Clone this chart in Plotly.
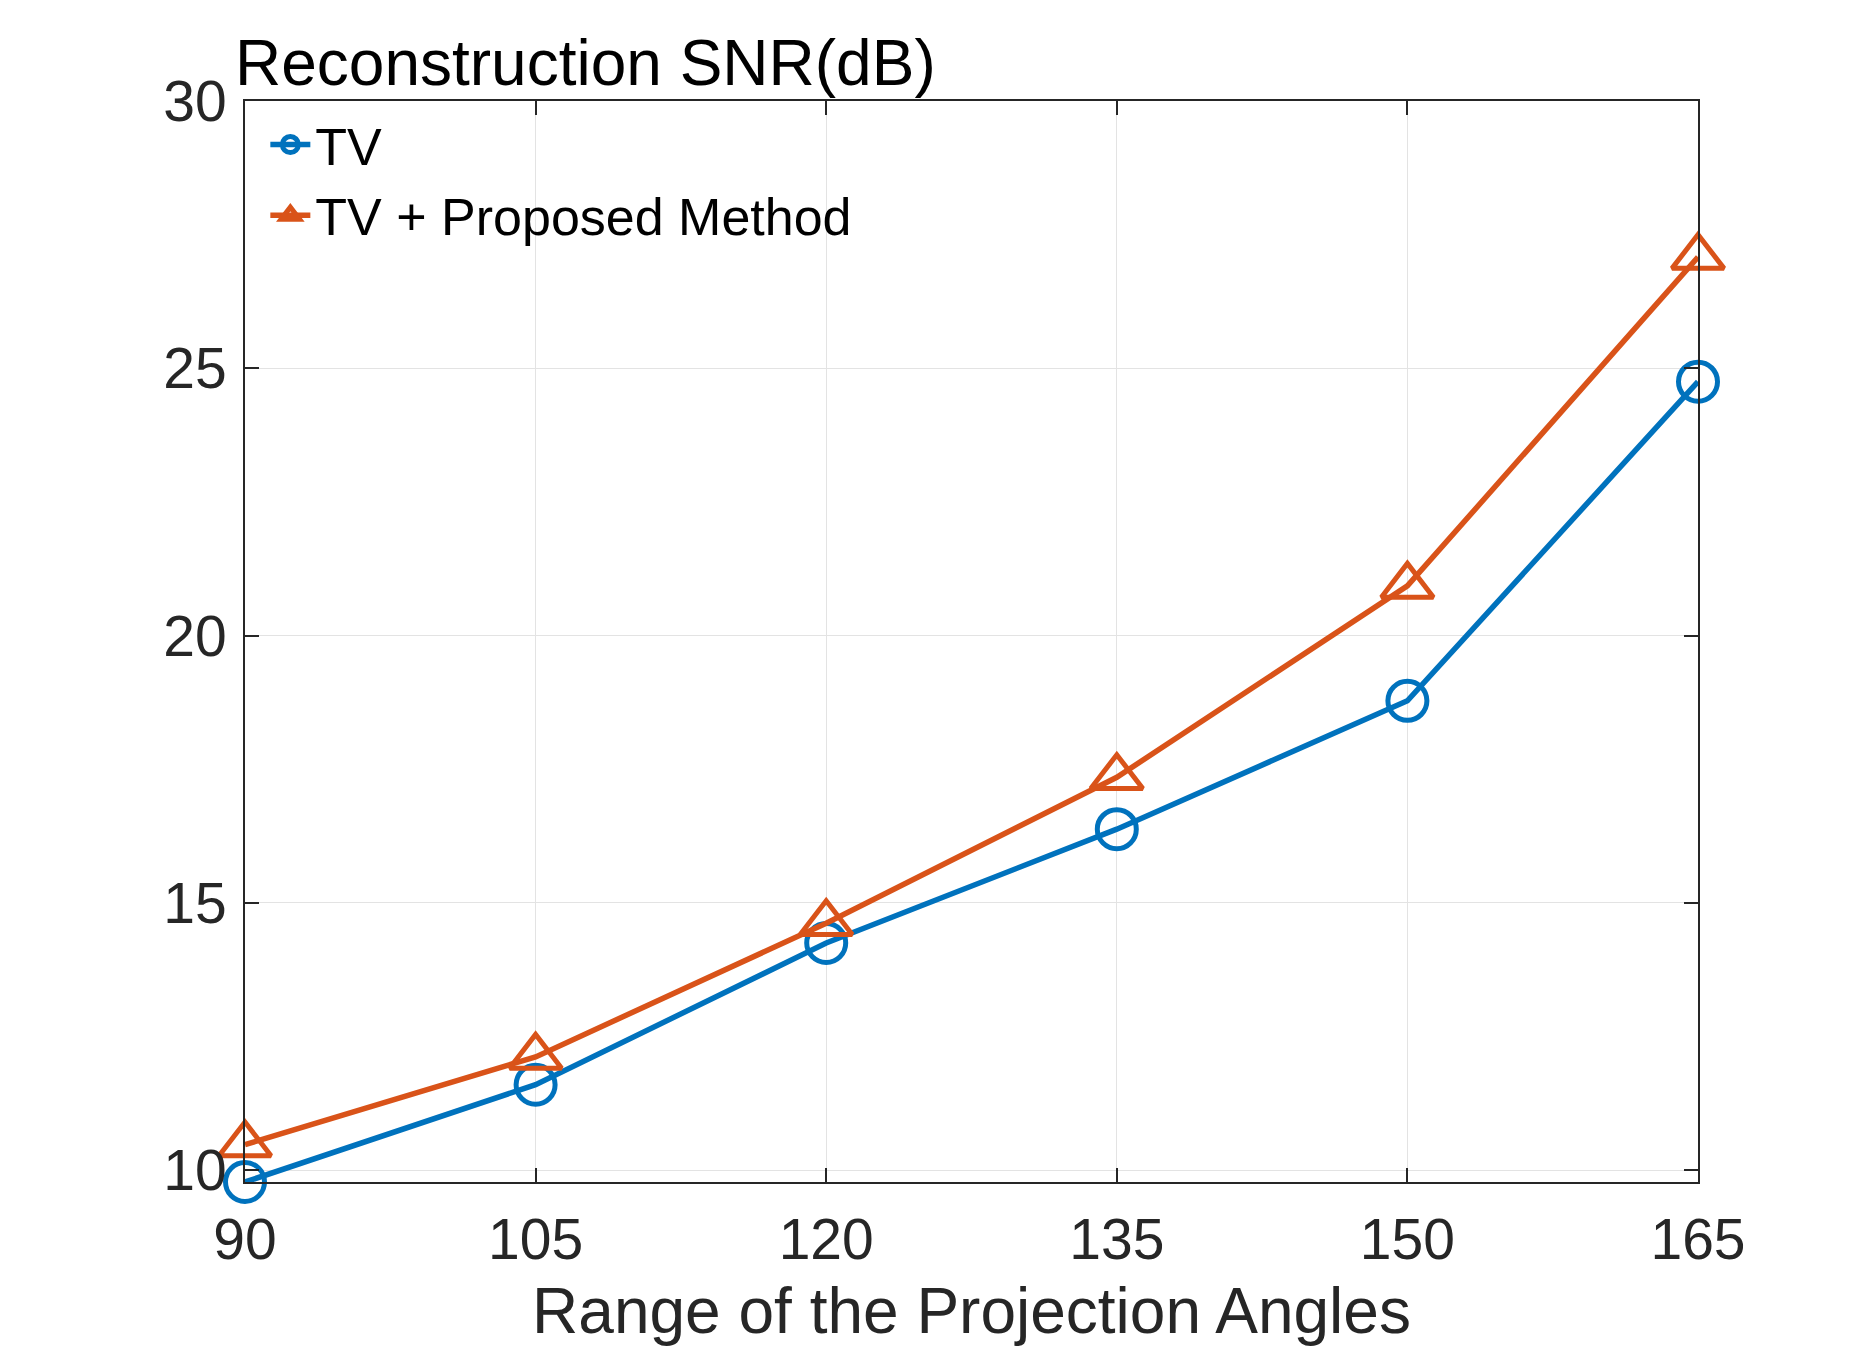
import plotly.graph_objects as go

angles = [90, 105, 120, 135, 150, 165]
snr_tv = [9.78, 11.60, 14.25, 16.38, 18.78, 24.75]
snr_proposed = [10.48, 12.12, 14.62, 17.35, 20.93, 27.08]
y_ticks = [10, 15, 20, 25, 30]

blue = "#0072BD"
orange = "#D95319"
axis_gray = "#262626"
font = "Liberation Sans"

fig = go.Figure()
fig.add_trace(go.Scatter(
    x=angles, y=snr_tv, mode="lines+markers", name="TV",
    line=dict(color=blue, width=5.5),
    marker=dict(symbol="circle-open", size=39, color=blue, line=dict(width=5)),
    cliponaxis=False,
))
fig.add_trace(go.Scatter(
    x=angles, y=snr_proposed, mode="lines+markers", name="TV + Proposed Method",
    line=dict(color=orange, width=5.5),
    marker=dict(symbol="triangle-up-open", size=45, color=orange, line=dict(width=5)),
    cliponaxis=False,
))

# page body has an 8px margin, so the plot box is offset by that
fig.update_layout(
    width=1875,
    height=1351,
    template="none",
    paper_bgcolor="white",
    plot_bgcolor="white",
    margin=dict(l=237, r=185, t=93, b=177, pad=0),
    font=dict(family=font, size=56, color=axis_gray),
    showlegend=True,
    legend=dict(
        x=0.014, y=0.997, xanchor="left", yanchor="top",
        bgcolor="rgba(255,255,255,0)",
        font=dict(family=font, size=52, color="black"),
        itemwidth=40,
        tracegroupgap=0,
    ),
    annotations=[dict(
        text="Reconstruction SNR(dB)",
        xref="paper", yref="paper", x=0, y=1,
        xanchor="left", yanchor="bottom", xshift=-12, yshift=0,
        showarrow=False,
        font=dict(family=font, size=64, color="black"),
    )],
)

fig.update_xaxes(
    range=[90, 165],
    tickvals=angles,
    ticks="inside",
    ticklen=14,
    tickwidth=1.5,
    tickcolor=axis_gray,
    showline=True,
    linewidth=2,
    linecolor=axis_gray,
    mirror="ticks",
    showgrid=True,
    gridcolor="#E3E3E3",
    gridwidth=1,
    zeroline=False,
    ticklabelstandoff=7,
    tickfont=dict(family=font, size=57, color=axis_gray),
    title=dict(text="Range of the Projection Angles",
               font=dict(family=font, size=64, color=axis_gray), standoff=18),
)

fig.update_yaxes(
    range=[9.78, 30],
    tickvals=y_ticks,
    ticks="inside",
    ticklen=14,
    tickwidth=1.5,
    tickcolor=axis_gray,
    showline=True,
    linewidth=2,
    linecolor=axis_gray,
    mirror="ticks",
    showgrid=True,
    gridcolor="#E3E3E3",
    gridwidth=1,
    zeroline=False,
    ticklabelstandoff=5,
    tickfont=dict(family=font, size=57, color=axis_gray),
)

fig.write_html("out.html")
